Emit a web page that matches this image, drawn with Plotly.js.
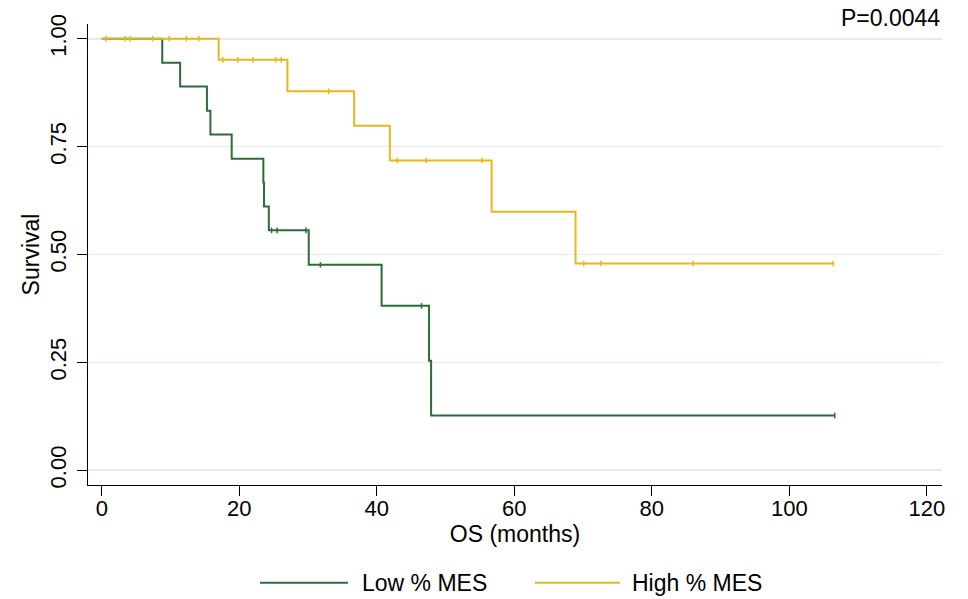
<!DOCTYPE html>
<html>
<head>
<meta charset="utf-8">
<script src="https://cdn.plot.ly/plotly-3.0.1.min.js"></script>
<style>
  html, body { margin: 0; padding: 0; background: #ffffff; }
  #chart { width: 968px; height: 599px; }
</style>
</head>
<body>
<div id="chart"></div>
<script>
// Kaplan-Meier overall survival by % MES group
// Step points: time (months) where the curve changes, and survival after that time
const lowTimes = [0, 8.8, 11.4, 15.3, 15.8, 18.9, 23.5, 23.6, 24.3, 30.1, 40.7, 47.6, 47.9, 106.6];
const lowSurv  = [1.0, 0.944, 0.889, 0.833, 0.778, 0.722, 0.667, 0.611, 0.556, 0.476, 0.381, 0.254, 0.127, 0.127];
const lowCensored = [24.7, 25.5, 29.7, 31.8, 46.5, 106.6];

const highTimes = [0, 17.0, 27.0, 36.7, 41.9, 56.7, 68.9, 106.4];
const highSurv  = [1.0, 0.951, 0.878, 0.798, 0.718, 0.599, 0.479, 0.479];
const highCensored = [0.6, 3.4, 4.1, 7.4, 9.8, 12.3, 14.1, 17.6, 19.8, 22.0, 25.3, 26.1, 33.0, 43.0, 47.2, 55.3, 70.1, 72.6, 86.0, 106.4];

const groupNames = ['Low % MES', 'High % MES'];
const groupColors = ['#2b6d39', '#e8b81a'];
const pValueText = 'P=0.0044';

const xTicks = [0, 20, 40, 60, 80, 100, 120];
const yTicks = [0, 0.25, 0.5, 0.75, 1.0];

// survival level of a step curve at time t
function stepValue(times, surv, t) {
  let v = surv[0];
  for (let i = 0; i < times.length; i++) {
    if (times[i] <= t) v = surv[i]; else break;
  }
  return v;
}

const FONT = 'Liberation Sans, Arial, Helvetica, sans-serif';
const TICK_SIZE = 22;
const TEXT_SIZE = 23;

function curveTraces(times, surv, cens, color, name) {
  return [
    {
      x: times, y: surv, type: 'scatter', mode: 'lines',
      line: { shape: 'hv', color: color, width: 2 },
      name: name, showlegend: false, hoverinfo: 'skip'
    },
    {
      x: cens, y: cens.map(t => stepValue(times, surv, t)),
      type: 'scatter', mode: 'markers',
      marker: { symbol: 'line-ns', size: 4, color: color, line: { color: color, width: 1.5 } },
      showlegend: false, hoverinfo: 'skip'
    }
  ];
}

const data = [
  ...curveTraces(lowTimes, lowSurv, lowCensored, groupColors[0], groupNames[0]),
  ...curveTraces(highTimes, highSurv, highCensored, groupColors[1], groupNames[1])
];

// legend drawn below the plot with long key lines
const legendY = -0.212;
const legendItems = [
  { x0: 0.2014, x1: 0.3044, tx: 0.3185 },
  { x0: 0.5234, x1: 0.6230, tx: 0.6345 }
];

const shapes = legendItems.map((it, i) => ({
  type: 'line', xref: 'paper', yref: 'paper',
  x0: it.x0, x1: it.x1, y0: legendY, y1: legendY,
  line: { color: groupColors[i], width: 2 }
}));

const annotations = legendItems.map((it, i) => ({
  xref: 'paper', yref: 'paper', x: it.tx, y: legendY,
  xanchor: 'left', yanchor: 'middle', showarrow: false,
  text: groupNames[i], font: { family: FONT, size: TEXT_SIZE, color: '#000' }
}));

annotations.push({
  xref: 'paper', yref: 'paper', x: 1.0, y: 1.013,
  xanchor: 'right', yanchor: 'middle', showarrow: false,
  text: pValueText, font: { family: FONT, size: TEXT_SIZE, color: '#000' }
});

const layout = {
  width: 968, height: 599,
  margin: { l: 88, r: 26, t: 24, b: 114 },
  paper_bgcolor: '#ffffff',
  plot_bgcolor: '#ffffff',
  font: { family: FONT, size: TEXT_SIZE, color: '#000' },
  showlegend: false,
  xaxis: {
    range: [-2, 122.2],
    tickvals: xTicks,
    ticktext: xTicks.map(String),
    ticks: 'outside', ticklen: 10, tickwidth: 1, tickcolor: '#000',
    showline: true, linecolor: '#000', linewidth: 1,
    showgrid: false, zeroline: false,
    ticklabelstandoff: -6,
    tickfont: { family: FONT, size: TICK_SIZE, color: '#000' },
    title: { text: 'OS (months)', font: { family: FONT, size: TEXT_SIZE, color: '#000' }, standoff: 2 }
  },
  yaxis: {
    range: [-0.034, 1.034],
    tickvals: yTicks,
    ticktext: yTicks.map(v => v.toFixed(2)),
    tickangle: -90,
    ticks: 'outside', ticklen: 10, tickwidth: 1, tickcolor: '#000',
    showline: true, linecolor: '#000', linewidth: 1,
    showgrid: true, gridcolor: '#e1edea', gridwidth: 1.8,
    zeroline: false,
    ticklabelstandoff: 2,
    tickfont: { family: FONT, size: TICK_SIZE, color: '#000' },
    title: { text: 'Survival', font: { family: FONT, size: TEXT_SIZE, color: '#000' }, standoff: 0 }
  },
  shapes: shapes,
  annotations: annotations
};

Plotly.newPlot('chart', data, layout, { displayModeBar: false, staticPlot: true });
</script>
</body>
</html>
